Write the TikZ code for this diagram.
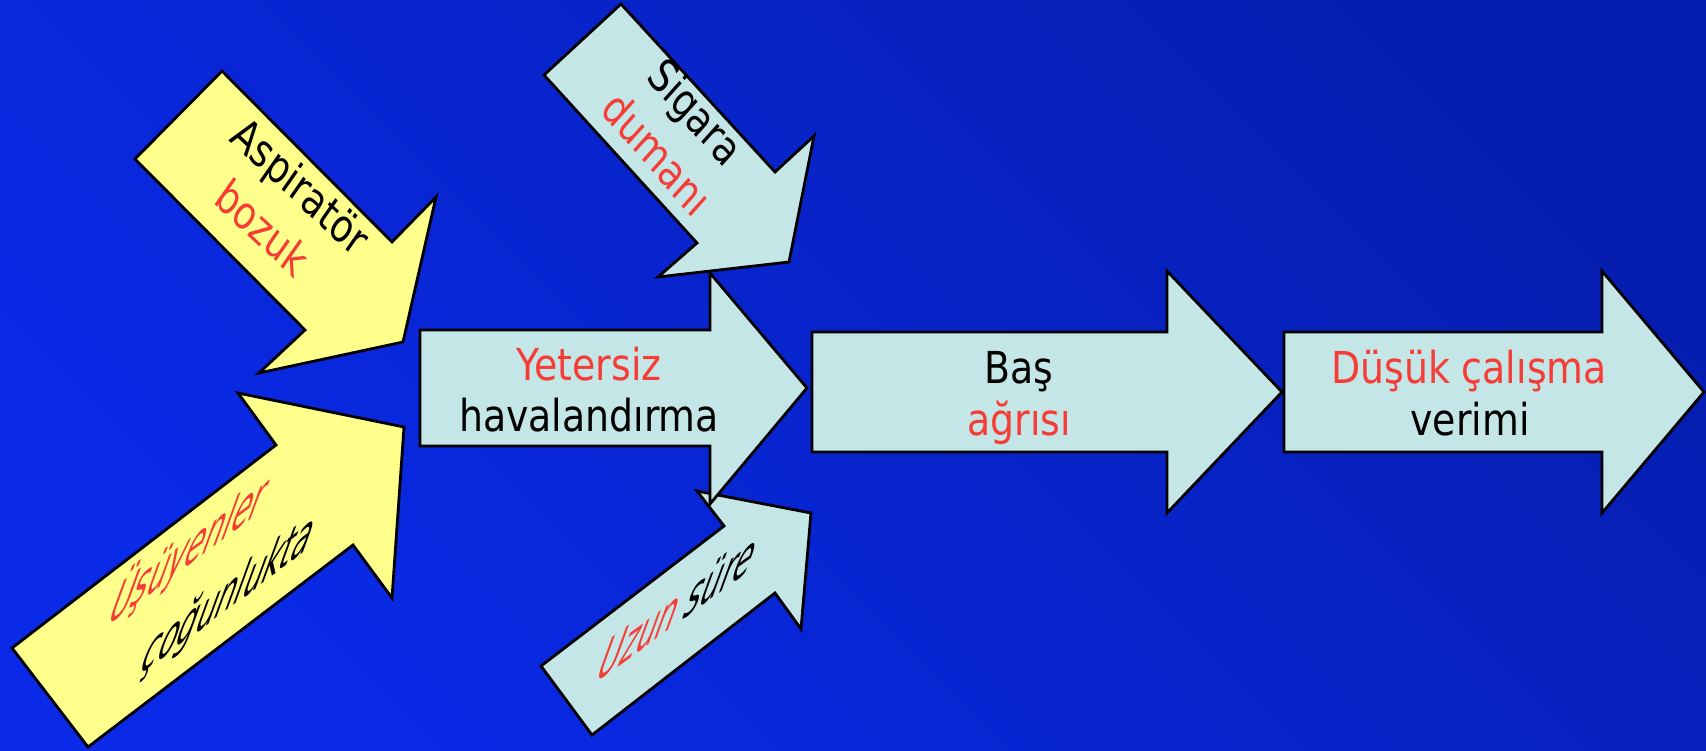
\documentclass[tikz,border=0pt]{standalone}
\usepackage{fontspec}
\setmainfont{DejaVu Sans}[FakeStretch=0.86]
\definecolor{txtred}{RGB}{246,60,54}
\definecolor{arrblue}{RGB}{196,230,230}
\definecolor{arryel}{RGB}{255,255,140}
\definecolor{bgA}{RGB}{10,42,232}
\definecolor{bgB}{RGB}{6,30,176}
\begin{document}
\begin{tikzpicture}[x=1pt,y=-1pt,
  arrowshape/.style={draw=black, line width=2.8pt, line join=miter},
  bluearr/.style={arrowshape, fill=arrblue},
  yelarr/.style={arrowshape, fill=arryel},
  lbl/.style={font=\fontsize{44}{52}\selectfont, inner sep=0pt, text=black},
  redlbl/.style={lbl, text=txtred}]
\useasboundingbox (0,0) rectangle (1706,750);
\shade[bottom color=bgA, top color=bgB, shading angle=-45] (0,0) rectangle (1706,750);
% yellow arrows
\draw[yelarr] (222,71) -- (392,242) -- (436,197) -- (403,342) -- (259,373) -- (305,330) -- (135,159) -- cycle;
\draw[yelarr] (12,648) -- (276,445) -- (238,393) -- (404,427) -- (392,598) -- (353,545) -- (88,747) -- cycle;
% small blue arrows and main arrows
\draw[bluearr] (541,666) -- (724,526) -- (697,491) -- (811,513) -- (801,629) -- (775,593) -- (592,735) -- cycle;
\draw[bluearr] (420,330) -- (710,330) -- (710,273) -- (807,388) -- (710,504) -- (710,446) -- (420,446) -- cycle;
\draw[bluearr] (621,4) -- (775,172) -- (814,136) -- (789,262) -- (658,277) -- (697,243) -- (544,75) -- cycle;
\draw[bluearr] (812,332) -- (1167,332) -- (1167,271) -- (1282,392) -- (1167,513) -- (1167,452) -- (812,452) -- cycle;
\draw[bluearr] (1284,332) -- (1602,332) -- (1602,271) -- (1704,392) -- (1602,513) -- (1602,452) -- (1284,452) -- cycle;
% horizontal texts
\node[redlbl, anchor=base] (t1a) at (589,380) {Yetersiz};
\node[lbl, anchor=base] (t1b) at (589,431) {havalandırma};
\node[lbl, anchor=base] (t2a) at (1019,383) {Baş};
\node[redlbl, anchor=base] (t2b) at (1019,435) {ağrısı};
\node[redlbl, anchor=base] (t3a) at (1469,383) {Düşük çalışma};
\node[lbl, anchor=base] (t3b) at (1470,435) {verimi};
% rotated texts
\begin{scope}[shift={(293.3,196.7)}, cm={0.7314,-0.6820,0.5736,0.8192,(0,0)}, transform shape]
\node[lbl, anchor=mid] (asp) at (0,0) {Aspiratör};
\end{scope}
\begin{scope}[shift={(255,238.3)}, cm={0.7314,-0.6820,0.5736,0.8192,(0,0)}, transform shape]
\node[redlbl, anchor=mid] (boz) at (0,0) {bozuk};
\end{scope}
\begin{scope}[shift={(686.7,121.7)}, cm={0.6561,-0.7547,0.6691,0.7431,(0,0)}, transform shape]
\node[lbl, anchor=mid] (sig) at (0,0) {Sigara};
\end{scope}
\begin{scope}[shift={(648.3,163.3)}, cm={0.6561,-0.7547,0.6691,0.7431,(0,0)}, transform shape]
\node[redlbl, anchor=mid] (dum) at (0,0) {dumanı};
\end{scope}
\begin{scope}[shift={(183.3,566.7)}, cm={0.8028,0.5962,0.513,1.4095,(0,0)}, transform shape]
\node[redlbl, anchor=mid] (usu) at (0,0) {Üşüyenler};
\end{scope}
\begin{scope}[shift={(223.3,610)}, cm={0.8028,0.5962,0.513,1.4095,(0,0)}, transform shape]
\node[lbl, anchor=mid] (cog) at (0,0) {çoğunlukta};
\end{scope}
\begin{scope}[shift={(671.7,625)}, cm={0.809,0.588,0.513,1.4095,(0,0)}, transform shape]
\node[lbl, anchor=mid] (uzs) at (0,0) {{\color{txtred}Uzun} süre};
\end{scope}
\end{tikzpicture}
\end{document}
